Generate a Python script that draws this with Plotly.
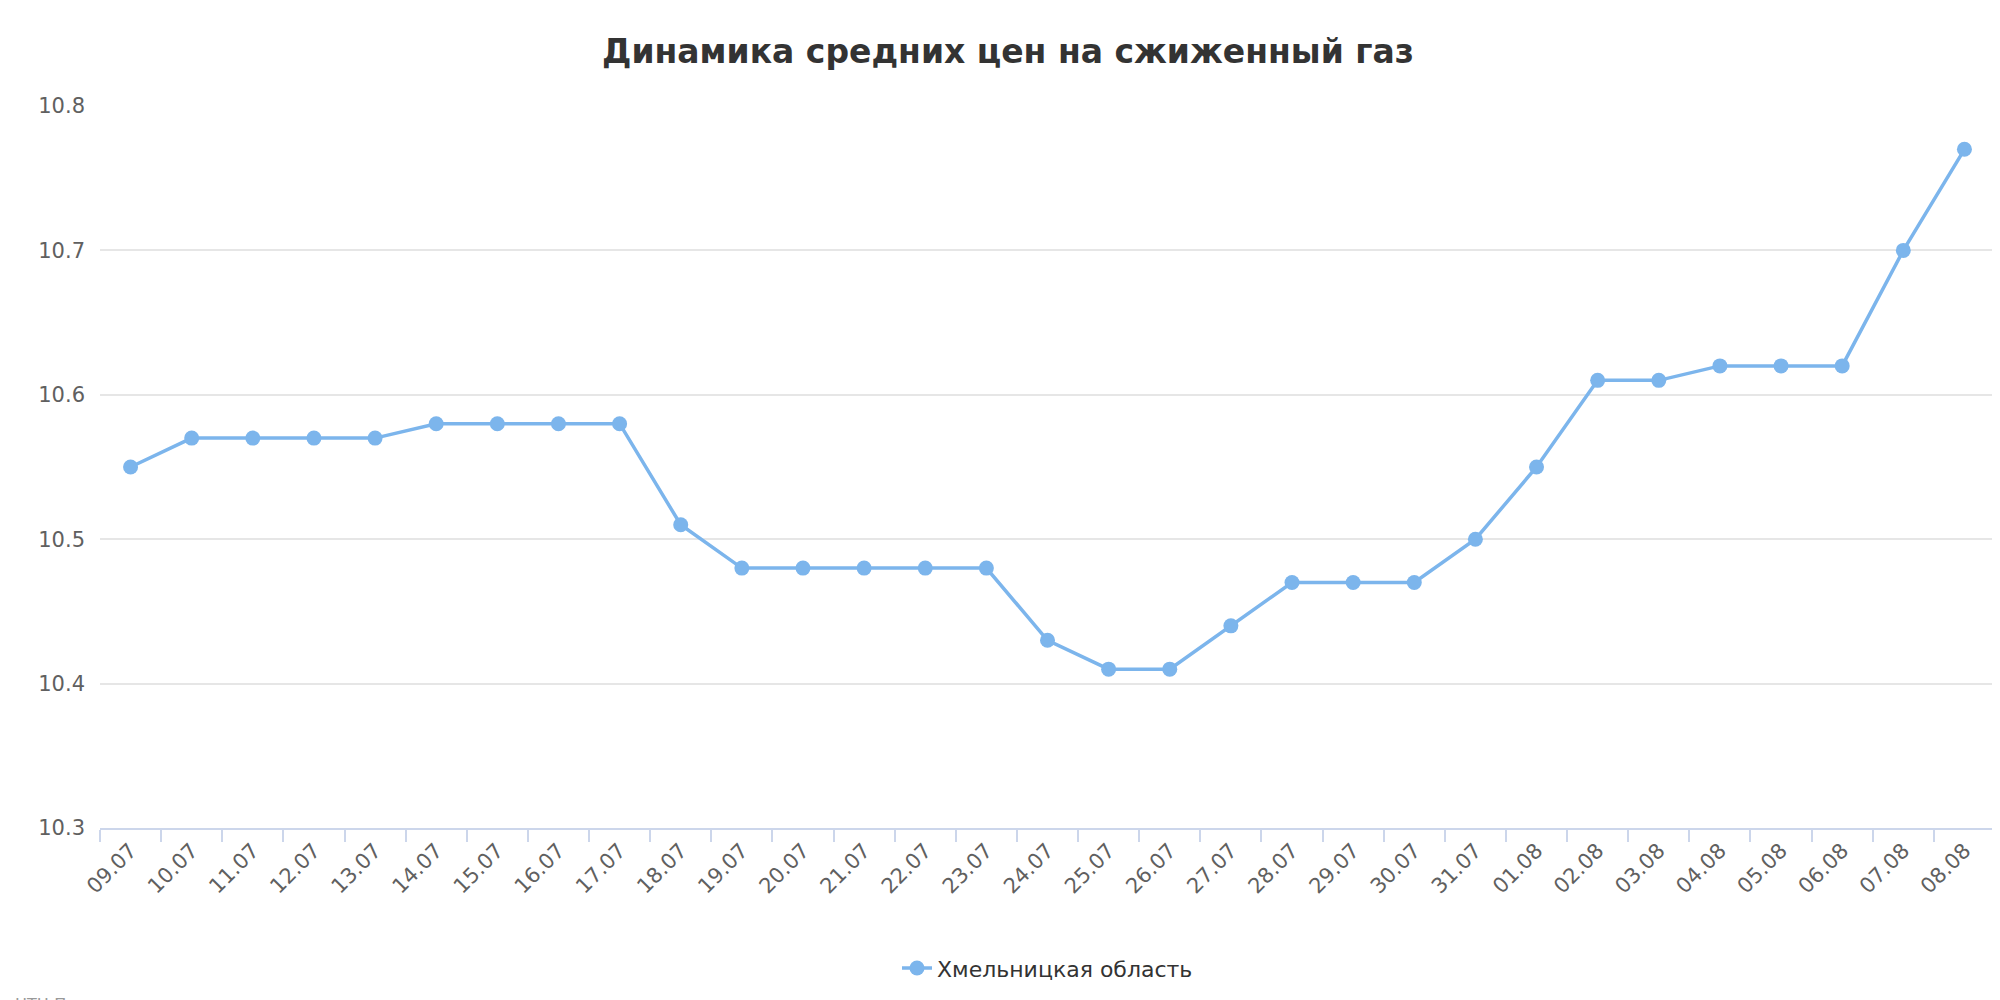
import plotly.graph_objects as go

dates = ["09.07","10.07","11.07","12.07","13.07","14.07","15.07","16.07","17.07","18.07",
         "19.07","20.07","21.07","22.07","23.07","24.07","25.07","26.07","27.07","28.07",
         "29.07","30.07","31.07","01.08","02.08","03.08","04.08","05.08","06.08","07.08","08.08"]
prices = [10.55,10.57,10.57,10.57,10.57,10.58,10.58,10.58,10.58,10.51,
          10.48,10.48,10.48,10.48,10.48,10.43,10.41,10.41,10.44,10.47,
          10.47,10.47,10.50,10.55,10.61,10.61,10.62,10.62,10.62,10.70,10.77]
yticks = [10.3,10.4,10.5,10.6,10.7,10.8]

fig = go.Figure(go.Scatter(x=dates, y=prices, mode="lines+markers", name="Хмельницкая область",
    line=dict(color="#7cb5ec", width=3.5), marker=dict(size=15, color="#7cb5ec")))
fig.update_layout(
    width=2000, height=1000, paper_bgcolor="white", plot_bgcolor="white",
    font=dict(family="DejaVu Sans", color="#606060", size=20),
    title=dict(text="<b>Динамика средних цен на сжиженный газ</b>", x=0.5, y=0.968, xanchor="center",
               font=dict(size=33, color="#333333")),
    margin=dict(l=92, r=13, t=98, b=180),
    showlegend=True,
    legend=dict(orientation="h", x=0.5, xanchor="center", y=-0.165, yanchor="top",
                font=dict(size=22, color="#333333")),
    annotations=[dict(text="НТЦ Психея", xref="paper", yref="paper", x=-0.046, y=-0.228,
                      xanchor="left", yanchor="top", showarrow=False,
                      font=dict(size=16, color="#999999"))],
)
fig.update_xaxes(type="category", tickangle=-45, showline=True, linecolor="#ccd6eb", linewidth=2,
                 ticks="outside", tickcolor="#ccd6eb", ticklen=12, tickwidth=2, showgrid=False,
                 tickson="boundaries", range=[-0.5, len(dates)-0.5], tickfont=dict(size=21))
fig.update_yaxes(range=[10.3, 10.8], tickvals=yticks, ticktext=[f"{v:.1f}" for v in yticks],
                 gridcolor="#e6e6e6", gridwidth=1.5, zeroline=False, tickfont=dict(size=21),
                 ticklabelstandoff=14)
fig.write_html("out.html")
